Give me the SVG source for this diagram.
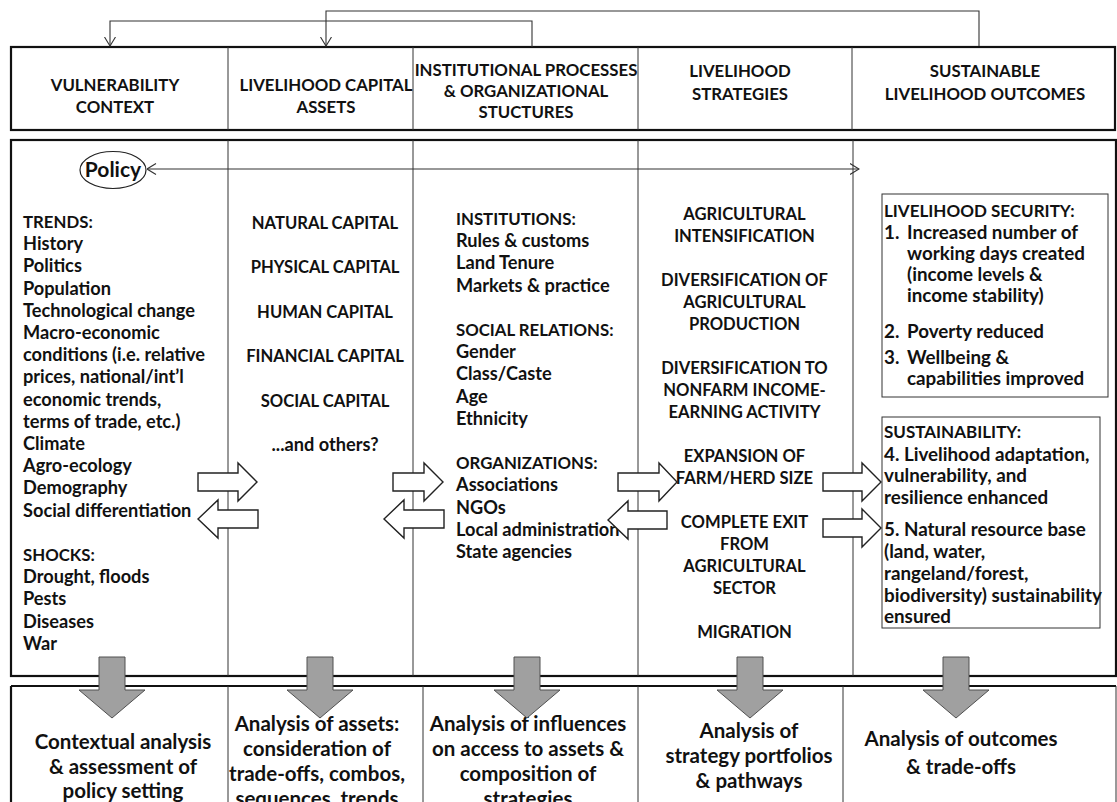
<svg xmlns="http://www.w3.org/2000/svg" width="1117" height="802" viewBox="0 0 1117 802">
<style>
text { font-family: Lato, "Liberation Sans", sans-serif; font-weight: bold; fill: #111; }
.h { font-size: 16.8px; text-anchor: middle; }
.b { font-size: 18.2px; }
.bc { font-size: 16.8px; }
.c { font-size: 16.6px; text-anchor: middle; }
.cm { font-size: 18.2px; text-anchor: middle; }
.o { font-size: 18.8px; }
.oc { font-size: 17px; }
.f { font-size: 20.5px; text-anchor: middle; }
.p { font-size: 21px; text-anchor: middle; }
.frame { fill: none; stroke: #111; stroke-width: 2.2; }
.div { stroke: #333; stroke-width: 1; fill: none; }
.thin { fill: #fff; stroke: #333; stroke-width: 1; }
.con { fill: none; stroke: #333; stroke-width: 1.1; }
.blk { fill: #fff; stroke: #222; stroke-width: 1.4; stroke-linejoin: miter; }
.gray { fill: #a0a0a0; stroke: #505050; stroke-width: 1; }
</style>
<defs>
<marker id="v" viewBox="0 0 10 12" refX="9.5" refY="6" markerWidth="10" markerHeight="12" markerUnits="userSpaceOnUse" orient="auto-start-reverse">
<path d="M0.5,0.5 L9.5,6 L0.5,11.5" fill="none" stroke="#333" stroke-width="1.1"/>
</marker>
</defs>

<g id="header">
<rect class="frame" x="11" y="47" width="1104" height="83"/>
<line class="div" x1="228" y1="47" x2="228" y2="130"/>
<line class="div" x1="413" y1="47" x2="413" y2="130"/>
<line class="div" x1="638" y1="47" x2="638" y2="130"/>
<line class="div" x1="852" y1="47" x2="852" y2="130"/>
</g>
<g id="h-vulnerability">
<text class="h" x="115" y="91">VULNERABILITY</text>
<text class="h" x="115" y="113">CONTEXT</text>
</g>
<g id="h-assets">
<text class="h" x="326" y="91">LIVELIHOOD CAPITAL</text>
<text class="h" x="326" y="113">ASSETS</text>
</g>
<g id="h-institutions">
<text class="h" x="526" y="76">INSTITUTIONAL PROCESSES</text>
<text class="h" x="526" y="97">&amp; ORGANIZATIONAL</text>
<text class="h" x="526" y="118">STUCTURES</text>
</g>
<g id="h-strategies">
<text class="h" x="740" y="77">LIVELIHOOD</text>
<text class="h" x="740" y="100">STRATEGIES</text>
</g>
<g id="h-outcomes">
<text class="h" x="985" y="77">SUSTAINABLE</text>
<text class="h" x="985" y="100">LIVELIHOOD OUTCOMES</text>
</g>

<g id="body">
<rect class="frame" x="11" y="140" width="1105" height="536"/>
<line class="div" x1="228" y1="140" x2="228" y2="676"/>
<line class="div" x1="413" y1="140" x2="413" y2="676"/>
<line class="div" x1="638" y1="140" x2="638" y2="676"/>
<line class="div" x1="853" y1="140" x2="853" y2="676"/>
</g>

<g id="policy">
<ellipse cx="113" cy="170" rx="33" ry="18.5" fill="#fff" stroke="#222" stroke-width="1.2"/>
<text class="p" x="113" y="177">Policy</text>
</g>

<g id="vulnerability">
<text class="bc" x="23" y="228">TRENDS:</text>
<text class="b" x="23" y="250.2">History</text>
<text class="b" x="23" y="272.4">Politics</text>
<text class="b" x="23" y="294.6">Population</text>
<text class="b" x="23" y="316.8">Technological change</text>
<text class="b" x="23" y="339">Macro-economic</text>
<text class="b" x="23" y="361.2">conditions (i.e. relative</text>
<text class="b" x="23" y="383.4">prices, national/int’l</text>
<text class="b" x="23" y="405.6">economic trends,</text>
<text class="b" x="23" y="427.8">terms of trade, etc.)</text>
<text class="b" x="23" y="450">Climate</text>
<text class="b" x="23" y="472.2">Agro-ecology</text>
<text class="b" x="23" y="494.4">Demography</text>
<text class="b" x="23" y="516.6">Social differentiation</text>
<text class="bc" x="23" y="561">SHOCKS:</text>
<text class="b" x="23" y="583.2">Drought, floods</text>
<text class="b" x="23" y="605.4">Pests</text>
<text class="b" x="23" y="627.6">Diseases</text>
<text class="b" x="23" y="649.8">War</text>
</g>

<g id="assets">
<text class="c" x="325" y="229">NATURAL CAPITAL</text>
<text class="c" x="325" y="273.4">PHYSICAL CAPITAL</text>
<text class="c" x="325" y="317.8">HUMAN CAPITAL</text>
<text class="c" x="325" y="362.2">FINANCIAL CAPITAL</text>
<text class="c" x="325" y="406.6">SOCIAL CAPITAL</text>
<text class="cm" x="325" y="451">...and others?</text>
</g>

<g id="institutions">
<text class="bc" x="456" y="225">INSTITUTIONS:</text>
<text class="b" x="456" y="247.2">Rules &amp; customs</text>
<text class="b" x="456" y="269.4">Land Tenure</text>
<text class="b" x="456" y="291.6">Markets &amp; practice</text>
<text class="bc" x="456" y="336">SOCIAL RELATIONS:</text>
<text class="b" x="456" y="358.2">Gender</text>
<text class="b" x="456" y="380.4">Class/Caste</text>
<text class="b" x="456" y="402.6">Age</text>
<text class="b" x="456" y="424.8">Ethnicity</text>
<text class="bc" x="456" y="469.2">ORGANIZATIONS:</text>
<text class="b" x="456" y="491.4">Associations</text>
<text class="b" x="456" y="513.6">NGOs</text>
<text class="b" x="456" y="535.8">Local administration</text>
<text class="b" x="456" y="558">State agencies</text>
</g>

<g id="strategies">
<text class="c" x="744.5" y="219.5">AGRICULTURAL</text>
<text class="c" x="744.5" y="241.5">INTENSIFICATION</text>
<text class="c" x="744.5" y="285.5">DIVERSIFICATION OF</text>
<text class="c" x="744.5" y="307.5">AGRICULTURAL</text>
<text class="c" x="744.5" y="329.5">PRODUCTION</text>
<text class="c" x="744.5" y="373.5">DIVERSIFICATION TO</text>
<text class="c" x="744.5" y="395.5">NONFARM INCOME-</text>
<text class="c" x="744.5" y="417.5">EARNING ACTIVITY</text>
<text class="c" x="744.5" y="461.5">EXPANSION OF</text>
<text class="c" x="744.5" y="483.5">FARM/HERD SIZE</text>
<text class="c" x="744.5" y="527.5">COMPLETE EXIT</text>
<text class="c" x="744.5" y="549.5">FROM</text>
<text class="c" x="744.5" y="571.5">AGRICULTURAL</text>
<text class="c" x="744.5" y="593.5">SECTOR</text>
<text class="c" x="744.5" y="637.5">MIGRATION</text>
</g>

<g id="security">
<rect class="thin" x="882" y="194" width="226" height="203"/>
<text class="oc" x="884" y="217">LIVELIHOOD SECURITY:</text>
<text class="o" x="884" y="238.5">1.</text>
<text class="o" x="907" y="238.5">Increased number of</text>
<text class="o" x="907" y="259.5">working days created</text>
<text class="o" x="907" y="280.5">(income levels &amp;</text>
<text class="o" x="907" y="301.5">income stability)</text>
<text class="o" x="884" y="338">2.</text>
<text class="o" x="907" y="338">Poverty reduced</text>
<text class="o" x="884" y="363.5">3.</text>
<text class="o" x="907" y="363.5">Wellbeing &amp;</text>
<text class="o" x="907" y="385">capabilities improved</text>
</g>

<g id="sustainability">
<rect class="thin" x="882" y="417" width="218" height="211"/>
<text class="oc" x="884" y="438">SUSTAINABILITY:</text>
<text class="o" x="884" y="460.5">4. Livelihood adaptation,</text>
<text class="o" x="884" y="482">vulnerability, and</text>
<text class="o" x="884" y="503.5">resilience enhanced</text>
<text class="o" x="884" y="536">5. Natural resource base</text>
<text class="o" x="884" y="558">(land, water,</text>
<text class="o" x="884" y="580">rangeland/forest,</text>
<text class="o" x="884" y="601.5">biodiversity) sustainability</text>
<text class="o" x="884" y="623">ensured</text>
</g>

<g id="analysis-row">
<line class="frame" x1="11" y1="686" x2="1116" y2="686"/>
<line class="frame" x1="11" y1="686" x2="11" y2="802"/>
<line class="div" x1="1116" y1="686" x2="1116" y2="802"/>
<line class="div" x1="228" y1="686" x2="228" y2="802"/>
<line class="div" x1="423" y1="686" x2="423" y2="802"/>
<line class="div" x1="638" y1="686" x2="638" y2="802"/>
<line class="div" x1="843" y1="686" x2="843" y2="802"/>
</g>
<g id="a-context">
<text class="f" x="123" y="749">Contextual analysis</text>
<text class="f" x="123" y="774">&amp; assessment of</text>
<text class="f" x="123" y="798">policy setting</text>
</g>
<g id="a-assets">
<text class="f" x="317" y="731">Analysis of assets:</text>
<text class="f" x="317" y="756">consideration of</text>
<text class="f" x="317" y="781">trade-offs, combos,</text>
<text class="f" x="317" y="806">sequences, trends</text>
</g>
<g id="a-influences">
<text class="f" x="528" y="731">Analysis of influences</text>
<text class="f" x="528" y="756">on access to assets &amp;</text>
<text class="f" x="528" y="781">composition of</text>
<text class="f" x="528" y="806">strategies</text>
</g>
<g id="a-strategies">
<text class="f" x="749" y="738">Analysis of</text>
<text class="f" x="749" y="763">strategy portfolios</text>
<text class="f" x="749" y="788">&amp; pathways</text>
</g>
<g id="a-outcomes">
<text class="f" x="961" y="746">Analysis of outcomes</text>
<text class="f" x="961" y="774">&amp; trade-offs</text>
</g>

<g id="connectors">
<path class="con" d="M532,47 V21 H110 V46" marker-end="url(#v)"/>
<path class="con" d="M979,46 V11 H326 V46" marker-end="url(#v)"/>
<line class="con" x1="147" y1="169" x2="859" y2="169" marker-start="url(#v)" marker-end="url(#v)"/>
<path class="blk" d="M198,473 H238 V463 L257,482 L238,501 V491 H198 Z"/>
<path class="blk" d="M198,519 L218,500 V510 H258 V528 H218 V538 Z"/>
<path class="blk" d="M393,473 H424 V463 L443,482 L424,501 V491 H393 Z"/>
<path class="blk" d="M384,519 L404,500 V510 H444 V528 H404 V538 Z"/>
<path class="blk" d="M618,473 H659 V463 L677,482 L659,501 V491 H618 Z"/>
<path class="blk" d="M608,520 L628,501 V511 H667 V529 H628 V539 Z"/>
<path class="blk" d="M823,473 H862 V463 L881,482 L862,501 V491 H823 Z"/>
<path class="blk" d="M823,519 H862 V509 L881,528 L862,547 V537 H823 Z"/>
<path class="gray" d="M99,657 H125 V690 H145 L112,718 L79,690 H99 Z"/>
<path class="gray" d="M307,657 H333 V690 H353 L320,718 L287,690 H307 Z"/>
<path class="gray" d="M514,657 H540 V690 H560 L527,718 L494,690 H514 Z"/>
<path class="gray" d="M737,657 H763 V690 H783 L750,718 L717,690 H737 Z"/>
<path class="gray" d="M943,657 H969 V690 H989 L956,718 L923,690 H943 Z"/>
</g>
</svg>
